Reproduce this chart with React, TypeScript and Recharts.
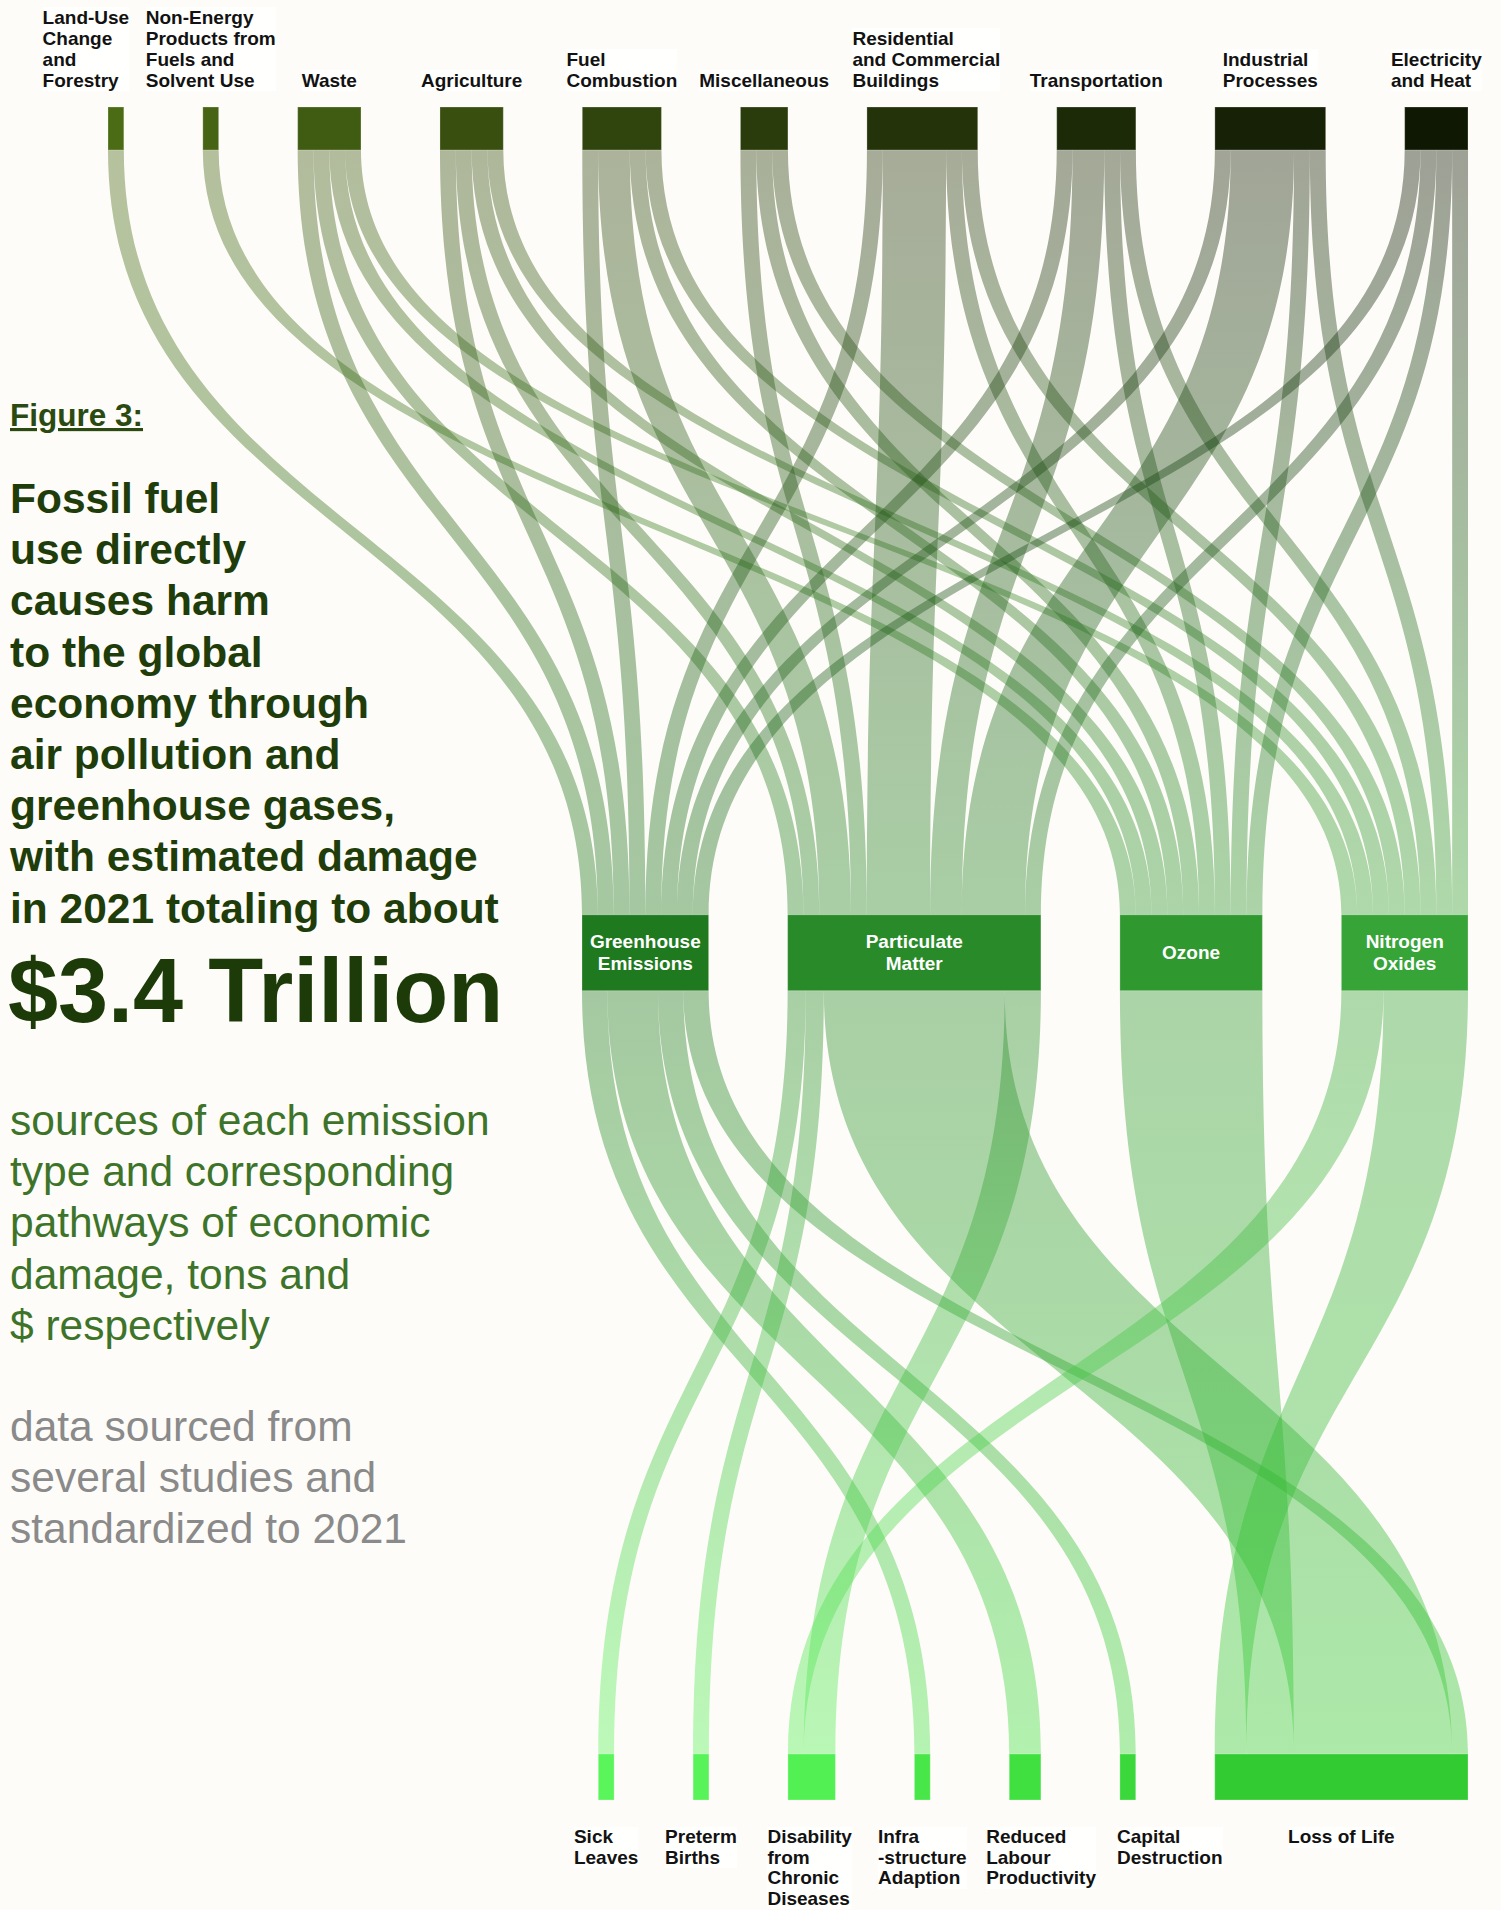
import React from "react";
import { Sankey } from "recharts";

// ---- data -------------------------------------------------------------

const sourceLabels = [
  ["Land-Use", "Change", "and", "Forestry"],
  ["Non-Energy", "Products from", "Fuels and", "Solvent Use"],
  ["Waste"],
  ["Agriculture"],
  ["Fuel", "Combustion"],
  ["Miscellaneous"],
  ["Residential", "and Commercial", "Buildings"],
  ["Transportation"],
  ["Industrial", "Processes"],
  ["Electricity", "and Heat"],
];

const emissionLabels = [
  ["Greenhouse", "Emissions"],
  ["Particulate", "Matter"],
  ["Ozone"],
  ["Nitrogen", "Oxides"],
];

const damageLabels = [
  ["Sick", "Leaves"],
  ["Preterm", "Births"],
  ["Disability", "from", "Chronic", "Diseases"],
  ["Infra", "-structure", "Adaption"],
  ["Reduced", "Labour", "Productivity"],
  ["Capital", "Destruction"],
  ["Loss of Life"],
];

// emissions (tons, relative units) coming from each source, in source order
const greenhouseTons = [1, 0, 1, 1, 1, 0, 1, 1, 1, 1];
const particulateTons = [0, 0, 1, 1, 2, 1, 4, 2, 4, 1];
const ozoneTons = [0, 1, 1, 1, 1, 1, 1, 1, 1, 1];
const nitrogenTons = [0, 0, 1, 1, 1, 1, 1, 1, 1, 1];

// economic damage ($, relative units): [emission, damage, value]
const damageFlows: [number, number, number][] = [
  [0, 3, 1],
  [0, 4, 2],
  [0, 5, 1],
  [0, 6, 1],
  [1, 0, 1],
  [1, 1, 1],
  [1, 6, 10],
  [1, 2, 2],
  [2, 6, 3],
  [3, 2, 1],
  [3, 6, 2],
];

const headline = [
  "Fossil fuel",
  "use directly",
  "causes harm",
  "to the global",
  "economy through",
  "air pollution and",
  "greenhouse gases,",
  "with estimated damage",
  "in 2021 totaling to about",
];
const total = "$3.4 Trillion";
const subtitle = [
  "sources of each emission",
  "type and corresponding",
  "pathways of economic",
  "damage, tons and",
  "$ respectively",
];
const sourceNote = ["data sourced from", "several studies and", "standardized to 2021"];

// ---- styling / layout -------------------------------------------------

const sourceColors = ["#4b6b15", "#466413", "#405c12", "#384f0f", "#30450d", "#2a3c0b", "#24330a", "#1d2a07", "#162105", "#0e1803"];
const emissionColors = ["#1f7a1f", "#298a29", "#2f982f", "#37a437"];
const damageColors = ["#5af55a", "#58f358", "#52f052", "#48e648", "#40e040", "#3ad83a", "#32cc32"];

const sourceLabelDx = [-30, 0, 0, 0, 0, 0, 4, 0, 0, 0];
const damageLabelDx = [0, 0, -2, 0, 16, 42, 0];

const W = 1501;
const H = 1910;
const PLOT_RIGHT = 1468;
const SPAN = 1360;
const NODE_PAD = 79;
const NODE_W = 40;
const TOP_CY = 128.5;
const BOTTOM_CY = 1777;
const THICK = [43, 76, 46];
const BG = "#fefcf8";
const FONT = "'Liberation Sans', Arial, Helvetica, sans-serif";

// ---- build sankey input -------------------------------------------------

const tonsByEmission = [greenhouseTons, particulateTons, ozoneTons, nitrogenTons];
const groups = [
  { key: "s", labels: sourceLabels, colors: sourceColors },
  { key: "e", labels: emissionLabels, colors: emissionColors },
  { key: "d", labels: damageLabels, colors: damageColors },
];

// nodes are listed right-to-left, since the horizontal layout is turned on its side
const nodes: any[] = [];
const nodeIndex: Record<string, number> = {};
groups.forEach((g, depth) => {
  for (let i = g.labels.length - 1; i >= 0; i--) {
    nodeIndex[g.key + i] = nodes.length;
    nodes.push({ name: g.labels[i].join(" "), group: depth, idx: i, color: g.colors[i] });
  }
});

type Flow = { from: string; to: string; value: number; reverseIn: boolean };
const flows: Flow[] = [];
sourceLabels.forEach((_, si) => {
  tonsByEmission.forEach((arr, ei) => {
    if (arr[si] > 0) flows.push({ from: "s" + si, to: "e" + ei, value: arr[si], reverseIn: false });
  });
});
damageFlows.forEach(([ei, di, v]) => flows.push({ from: "e" + ei, to: "d" + di, value: v, reverseIn: true }));

const srcTotal: Record<string, number> = {};
const srcBefore: number[] = [];
flows.forEach((f, i) => {
  srcBefore[i] = srcTotal[f.from] || 0;
  srcTotal[f.from] = srcBefore[i] + f.value;
});
const tgtBefore: number[] = [];
const tgtAcc: Record<string, number> = {};
flows.forEach((f, i) => {
  if (f.reverseIn) return;
  tgtBefore[i] = tgtAcc[f.to] || 0;
  tgtAcc[f.to] = tgtBefore[i] + f.value;
});
for (let i = flows.length - 1; i >= 0; i--) {
  const f = flows[i];
  if (!f.reverseIn) continue;
  tgtBefore[i] = tgtAcc[f.to] || 0;
  tgtAcc[f.to] = tgtBefore[i] + f.value;
}

const links = flows.map((f, i) => ({
  source: nodeIndex[f.from],
  target: nodeIndex[f.to],
  value: f.value,
  srcBefore: srcBefore[i],
  srcTotal: srcTotal[f.from],
  tgtBefore: tgtBefore[i],
}));

const sankeyData = { nodes, links };

// ---- renderers ---------------------------------------------------------

function nodeBox(n: any) {
  const frac = n.x / (W - NODE_W);
  const cy = TOP_CY + frac * (BOTTOM_CY - TOP_CY);
  const t = THICK[n.depth] ?? 43;
  return { x0: PLOT_RIGHT - n.y - n.dy, x1: PLOT_RIGHT - n.y, y0: cy - t / 2, y1: cy + t / 2, cy };
}

function LinkShape(props: any) {
  const { payload, linkWidth, index } = props;
  if (!payload || !payload.value) return null;
  const ky = linkWidth / payload.value;
  const s = nodeBox(payload.source);
  const t = nodeBox(payload.target);
  const fill = payload.source.dy / (ky * payload.srcTotal);
  const sx0 = s.x0 + payload.srcBefore * ky * fill;
  const sx1 = sx0 + payload.value * ky * fill;
  const tx0 = t.x0 + payload.tgtBefore * ky;
  const tx1 = tx0 + linkWidth;
  const ys = s.y1;
  const yt = t.y0;
  const ym = (ys + yt) / 2;
  const id = `lg-${index}`;
  const d = `M${sx0},${ys}C${sx0},${ym} ${tx0},${ym} ${tx0},${yt}L${tx1},${yt}C${tx1},${ym} ${sx1},${ym} ${sx1},${ys}Z`;
  return (
    <g>
      <defs>
        <linearGradient id={id} gradientUnits="userSpaceOnUse" x1={0} y1={ys} x2={0} y2={yt}>
          <stop offset="0%" stopColor={payload.source.color} />
          <stop offset="100%" stopColor={payload.target.color} />
        </linearGradient>
      </defs>
      <path d={d} fill={`url(#${id})`} fillOpacity={0.4} stroke="none" />
    </g>
  );
}

function LabelBlock({ lines, cx, top, bottom, align, lineHeight }: any) {
  return (
    <foreignObject x={cx - 130} y={top} width={260} height={bottom - top}>
      <div
        style={{
          height: "100%",
          display: "flex",
          justifyContent: "center",
          alignItems: align,
        }}
      >
        <div
          style={{
            fontFamily: FONT,
            fontWeight: 700,
            fontSize: 19,
            lineHeight: lineHeight,
            color: "#121212",
            whiteSpace: "nowrap",
            textAlign: "left",
            background: "#fffffe",
          }}
        >
          {lines.map((l: string, i: number) => (
            <div key={i}>{l}</div>
          ))}
        </div>
      </div>
    </foreignObject>
  );
}

function NodeShape(props: any) {
  const n = props.payload;
  if (!n) return null;
  const b = nodeBox(n);
  const cx = (b.x0 + b.x1) / 2;
  const g = groups[n.group];
  const lines: string[] = g.labels[n.idx];
  return (
    <g>
      <rect x={b.x0} y={b.y0} width={b.x1 - b.x0} height={b.y1 - b.y0} fill={n.color} stroke="#ffffff" strokeOpacity={0.25} />
      {n.group === 0 && (
        <LabelBlock lines={lines} cx={cx + sourceLabelDx[n.idx]} top={0} bottom={91} align="flex-end" lineHeight="21px" />
      )}
      {n.group === 2 && (
        <LabelBlock lines={lines} cx={cx + damageLabelDx[n.idx]} top={1827} bottom={H} align="flex-start" lineHeight="20.5px" />
      )}
      {n.group === 1 &&
        lines.map((l, i) => (
          <text
            key={i}
            x={cx}
            y={b.cy + (i - (lines.length - 1) / 2) * 22}
            textAnchor="middle"
            dominantBaseline="central"
            fill="#ffffff"
            fontFamily={FONT}
            fontWeight={700}
            fontSize={19}
          >
            {l}
          </text>
        ))}
    </g>
  );
}

// ---- app ----------------------------------------------------------------

export default function App() {
  return (
    <div style={{ position: "absolute", left: 0, top: 0, width: W, height: H, background: BG, overflow: "hidden" }}>
      <div style={{ position: "absolute", left: 0, top: 0 }}>
        <Sankey
          width={W}
          height={H}
          data={sankeyData}
          margin={{ top: 0, left: 0, right: 0, bottom: H - SPAN }}
          nodeWidth={NODE_W}
          nodePadding={NODE_PAD}
          iterations={0}
          sort={false}
          node={NodeShape}
          link={LinkShape}
        />
      </div>
      <svg width={520} height={H} style={{ position: "absolute", left: 0, top: 0, pointerEvents: "none" }} fontFamily={FONT}>
        <text x={10} y={426} fontSize={31.5} fontWeight={700} fill="#2b4a12" style={{ textDecoration: "underline" }}>
          Figure 3:
        </text>
        {headline.map((l, i) => (
          <text key={i} x={10} y={513 + i * 51.2} fontSize={42.5} fontWeight={700} fill="#1f3d0b">
            {l}
          </text>
        ))}
        <text x={8} y={1022} fontSize={90} fontWeight={700} fill="#1d3a09">
          {total}
        </text>
        {subtitle.map((l, i) => (
          <text key={i} x={10} y={1135 + i * 51.2} fontSize={42.5} fill="#3d7429">
            {l}
          </text>
        ))}
        {sourceNote.map((l, i) => (
          <text key={i} x={10} y={1441 + i * 51.2} fontSize={42.5} fill="#8a8a8a">
            {l}
          </text>
        ))}
      </svg>
    </div>
  );
}
